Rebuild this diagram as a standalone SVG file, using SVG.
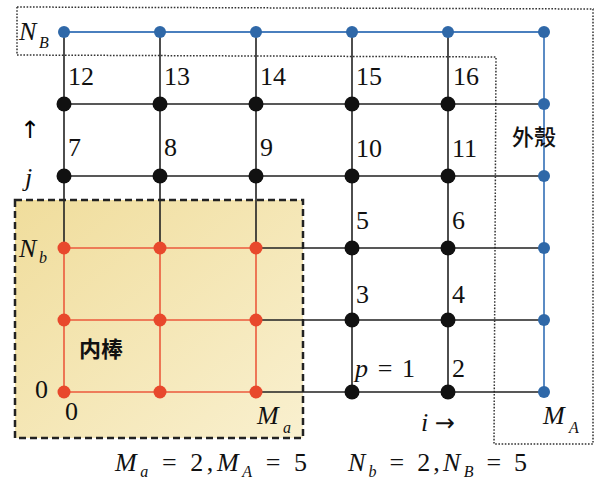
<svg xmlns="http://www.w3.org/2000/svg" width="596" height="483" viewBox="0 0 596 483" font-family="Liberation Serif, DejaVu Serif, serif">
<defs>
<linearGradient id="yel" x1="0" y1="0" x2="1" y2="1">
<stop offset="0" stop-color="#f0dd9c"/>
<stop offset="1" stop-color="#f9f0cf"/>
</linearGradient>
<style>
.dot{stroke:#333;stroke-width:1.5;stroke-dasharray:1.6 1.6;fill:none}
.bk{fill:#111}
.rd{fill:#e8482c}
.bl{fill:#2f68a8}
.lk{stroke:#222;stroke-width:1.6;fill:none}
.lr{stroke:#ec5a3c;stroke-width:1.6;fill:none}
.lb{stroke:#4a7fbe;stroke-width:1.8;fill:none}
.t{font-family:"Liberation Serif","DejaVu Serif",serif;fill:#111}
.n{font-size:26px}
.it{font-style:italic}
.ar{font-family:"DejaVu Sans",sans-serif;font-size:24px}
.cjk{font-family:"Noto Sans CJK SC","Noto Sans CJK TC",sans-serif;font-size:22px;fill:#111}
</style>
</defs>
<rect width="596" height="483" fill="#ffffff"/>
<g id="shell">
<path d="M17,7 L593,9 L593,444 L494,444 L496,57 L17,55 Z" fill="#f4f4f1" class="dot"/>
</g>
<g id="core">
<rect x="15" y="200" width="288" height="238" fill="url(#yel)" stroke="#222" stroke-width="2.5" stroke-dasharray="7 4"/>
</g>
<g id="connectors">
<path class="lb" d="M64,32 H544 V392"/>
<path class="lk" d="M64,32 V248 M160,32 V248 M256,32 V248 M352,32 V392 M448,32 V392"/>
<path class="lk" d="M64,104 H544 M64,176 H544 M256,248 H544 M256,320 H544 M256,392 H544"/>
<path class="lr" d="M64,248 V392 M160,248 V392 M256,248 V392 M64,248 H256 M64,320 H256 M64,392 H256"/>
</g>
<g id="boundary-top">
<circle class="bl" cx="64" cy="32" r="6"/><circle class="bl" cx="160" cy="32" r="6"/><circle class="bl" cx="256" cy="32" r="6"/>
<circle class="bl" cx="352" cy="32" r="6"/><circle class="bl" cx="448" cy="32" r="6"/><circle class="bl" cx="544" cy="32" r="6"/>
</g>
<g id="boundary-right">
<circle class="bl" cx="544" cy="104" r="6"/><circle class="bl" cx="544" cy="176" r="6"/><circle class="bl" cx="544" cy="248" r="6"/>
<circle class="bl" cx="544" cy="320" r="6"/><circle class="bl" cx="544" cy="392" r="6"/>
</g>
<g id="core-nodes">
<circle class="rd" cx="64" cy="248" r="6.5"/><circle class="rd" cx="160" cy="248" r="6.5"/><circle class="rd" cx="256" cy="248" r="6.5"/>
<circle class="rd" cx="64" cy="320" r="6.5"/><circle class="rd" cx="160" cy="320" r="6.5"/><circle class="rd" cx="256" cy="320" r="6.5"/>
<circle class="rd" cx="64" cy="392" r="6.5"/><circle class="rd" cx="160" cy="392" r="6.5"/><circle class="rd" cx="256" cy="392" r="6.5"/>
</g>
<g id="p1"><circle class="bk" cx="352" cy="392" r="7.5"/><text class="t n" x="355" y="377" textLength="60" lengthAdjust="spacing"><tspan class="it">p</tspan> = 1</text></g>
<g id="p2"><circle class="bk" cx="448" cy="392" r="7.5"/><text class="t n" x="452" y="377">2</text></g>
<g id="p3"><circle class="bk" cx="352" cy="320" r="7.5"/><text class="t n" x="356" y="303">3</text></g>
<g id="p4"><circle class="bk" cx="448" cy="320" r="7.5"/><text class="t n" x="452" y="303">4</text></g>
<g id="p5"><circle class="bk" cx="352" cy="248" r="7.5"/><text class="t n" x="356" y="229">5</text></g>
<g id="p6"><circle class="bk" cx="448" cy="248" r="7.5"/><text class="t n" x="452" y="229">6</text></g>
<g id="p7"><circle class="bk" cx="64" cy="176" r="7.5"/><text class="t n" x="68" y="156">7</text></g>
<g id="p8"><circle class="bk" cx="160" cy="176" r="7.5"/><text class="t n" x="164" y="156">8</text></g>
<g id="p9"><circle class="bk" cx="256" cy="176" r="7.5"/><text class="t n" x="260" y="156">9</text></g>
<g id="p10"><circle class="bk" cx="352" cy="176" r="7.5"/><text class="t n" x="356" y="157">10</text></g>
<g id="p11"><circle class="bk" cx="448" cy="176" r="7.5"/><text class="t n" x="452" y="157">11</text></g>
<g id="p12"><circle class="bk" cx="64" cy="104" r="7.5"/><text class="t n" x="68" y="85">12</text></g>
<g id="p13"><circle class="bk" cx="160" cy="104" r="7.5"/><text class="t n" x="164" y="85">13</text></g>
<g id="p14"><circle class="bk" cx="256" cy="104" r="7.5"/><text class="t n" x="260" y="85">14</text></g>
<g id="p15"><circle class="bk" cx="352" cy="104" r="7.5"/><text class="t n" x="356" y="85">15</text></g>
<g id="p16"><circle class="bk" cx="448" cy="104" r="7.5"/><text class="t n" x="453" y="85">16</text></g>
<g id="labels">
<text class="t n it" x="19" y="40">N</text><text class="t it" font-size="16" x="39" y="48">B</text>
<text class="ar" x="20" y="138">↑</text>
<text class="t n it" x="25" y="186">j</text>
<text class="t n it" x="19" y="257">N</text><text class="t it" font-size="16" x="39" y="263">b</text>
<text class="t n" x="35" y="398">0</text>
<text class="t n" x="65" y="420">0</text>
<text class="t n it" x="257" y="424">M</text><text class="t it" font-size="16" x="283" y="433">a</text>
<text class="t n" x="421" y="431"><tspan class="it">i</tspan> <tspan class="ar">→</tspan></text>
<text class="t n it" x="543" y="424">M</text><text class="t it" font-size="16" x="569" y="433">A</text>
<text class="cjk" font-weight="bold" x="79" y="357">内棒</text>
<text class="cjk" font-size="24" font-weight="500" x="512" y="145">外殼</text>
<text class="t n" x="115" y="471" textLength="192" lengthAdjust="spacing"><tspan class="it">M</tspan><tspan class="it" font-size="16" dy="6">a</tspan><tspan dy="-6"> = 2,</tspan><tspan class="it">M</tspan><tspan class="it" font-size="16" dy="6">A</tspan><tspan dy="-6"> = 5</tspan></text>
<text class="t n" x="348" y="471" textLength="179" lengthAdjust="spacing"><tspan class="it">N</tspan><tspan class="it" font-size="16" dy="6">b</tspan><tspan dy="-6"> = 2,</tspan><tspan class="it">N</tspan><tspan class="it" font-size="16" dy="6">B</tspan><tspan dy="-6"> = 5</tspan></text>
</g>
</svg>
